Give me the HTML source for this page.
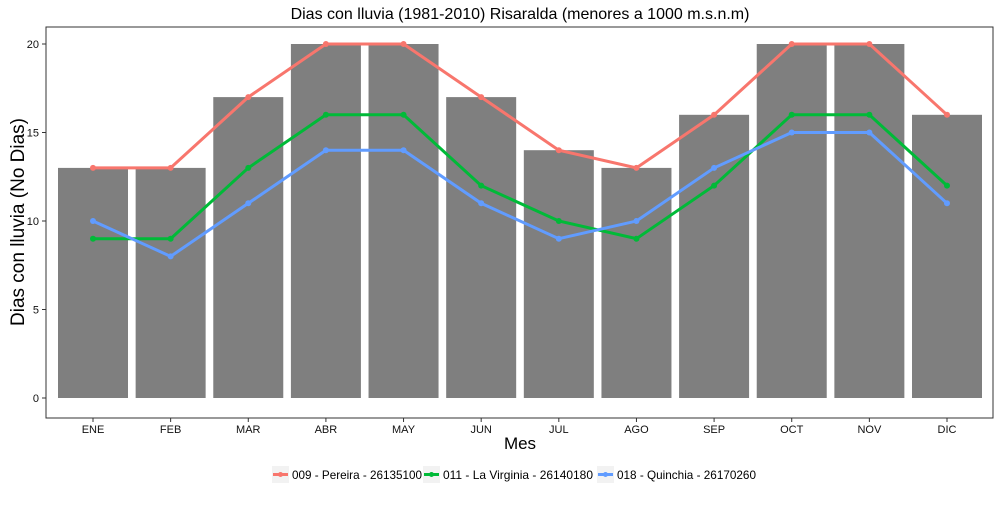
<!DOCTYPE html>
<html><head><meta charset="utf-8"><style>
body{margin:0;background:#fff;}
svg text{font-family:"Liberation Sans",Arial,sans-serif;}
</style></head><body>
<svg id="c" width="1000" height="500" xmlns="http://www.w3.org/2000/svg">
<rect x="0" y="0" width="1000" height="500" fill="#fff"/>
<text x="520" y="19" font-size="16" text-anchor="middle" fill="#000">Dias con lluvia (1981-2010) Risaralda (menores a 1000 m.s.n.m)</text>
<g id="plot"></g>
<rect x="46" y="27" width="947" height="391" fill="none" stroke="#333" stroke-width="1"/>
<text x="520" y="449" font-size="17" text-anchor="middle">Mes</text>
<text transform="translate(24,222) rotate(-90)" font-size="19" text-anchor="middle">Dias con lluvia (No Dias)</text>
<g id="legend"></g>
</svg>
<script>
const months=["ENE","FEB","MAR","ABR","MAY","JUN","JUL","AGO","SEP","OCT","NOV","DIC"];
const barVals=[13,13,17,20,20,17,14,13,16,20,20,16];
const pereira=[13,13,17,20,20,17,14,13,16,20,20,16];
const virginia=[9,9,13,16,16,12,10,9,12,16,16,12];
const quinchia=[10,8,11,14,14,11,9,10,13,15,15,11];
const yTicks=[0,5,10,15,20];
const seriesNames=["009 - Pereira - 26135100","011 - La Virginia - 26140180","018 - Quinchia - 26170260"];
const NS="http://www.w3.org/2000/svg";
const x=i=>93+i*(854/11);
const y=v=>398-v*17.7;
const plot=document.getElementById('plot');
function mk(t,a,p){const e=document.createElementNS(NS,t);for(const k in a)e.setAttribute(k,a[k]);(p||plot).appendChild(e);return e;}
yTicks.forEach(t=>{
  const tk=mk('line',{x1:42,x2:46,y1:y(t),y2:y(t),stroke:'#333'});
  
  
  const l=mk('text',{x:39,y:y(t)+4,'font-size':11,'text-anchor':'end',fill:'#111'});l.textContent=t;
  
  
});
barVals.forEach((v,i)=>{
  const r=mk('rect',{x:x(i)-35,y:y(v),width:70,height:y(0)-y(v),fill:'#7f7f7f'});
  
  
  mk('line',{x1:x(i),x2:x(i),y1:418,y2:422,stroke:'#333'});
  const l=mk('text',{x:x(i),y:433,'font-size':11,'text-anchor':'middle',fill:'#111'});l.textContent=months[i];
  
  
});
const series=[[pereira,'#F8766D'],[virginia,'#00BA38'],[quinchia,'#619CFF']];
series.forEach(([d,c],s)=>{
  const p=mk('polyline',{points:d.map((v,i)=>x(i)+','+y(v)).join(' '),fill:'none',stroke:c,'stroke-width':3});
  
  
  d.forEach((v,i)=>{const ci=mk('circle',{cx:x(i),cy:y(v),r:3,fill:c});
    
    });
});
const lg=document.getElementById('legend');
const lx=[272,423,597];
const tl=[130,150,139];
series.forEach(([d,c],s)=>{
  const g=mk('g',{},lg);
  
  
  mk('rect',{x:lx[s],y:466,width:17,height:17,fill:'#f2f2f2'},g);
  mk('line',{x1:lx[s]+1,x2:lx[s]+16,y1:474.5,y2:474.5,stroke:c,'stroke-width':3},g);
  mk('circle',{cx:lx[s]+8.5,cy:474.5,r:2.5,fill:c},g);
  const t=mk('text',{x:lx[s]+20,y:479,'font-size':12,fill:'#000',textLength:tl[s],lengthAdjust:'spacingAndGlyphs'},g);t.textContent=seriesNames[s];
});
</script>
</body></html>
